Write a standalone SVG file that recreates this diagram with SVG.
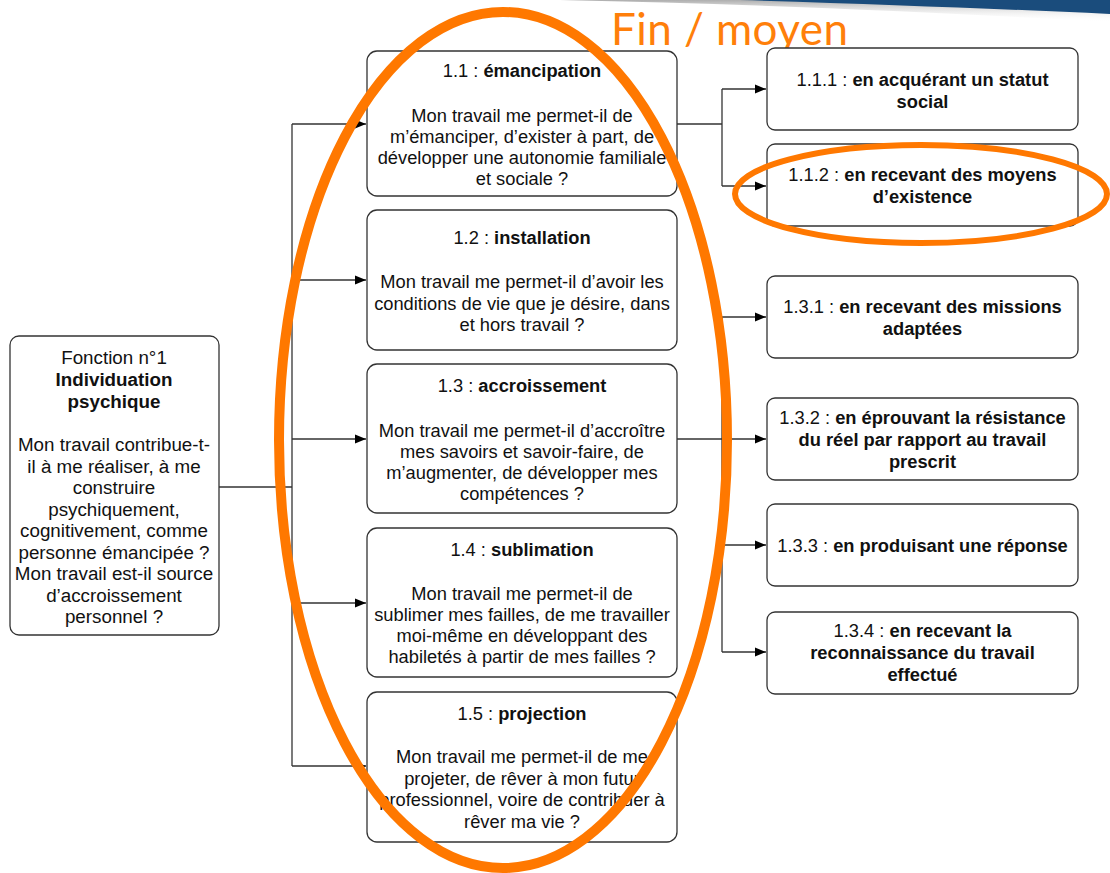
<svg xmlns="http://www.w3.org/2000/svg" width="1110" height="873" viewBox="0 0 1110 873">
<defs>
<style>
.box{fill:#fff;stroke:#333;stroke-width:1.3}
.t{font-family:"Liberation Sans",Arial,sans-serif;font-size:18.3px;fill:#111;text-anchor:middle}
.tl{font-size:18.8px}
.b{font-weight:bold}
.c{fill:none;stroke:#333;stroke-width:1.3}
.ca{fill:none;stroke:#333;stroke-width:1.3;marker-end:url(#ah)}
.hl{fill:none;stroke:#ff7800;stroke-width:10}
</style>
<marker id="ah" viewBox="0 0 10 10" refX="10" refY="5" markerWidth="11" markerHeight="11" markerUnits="userSpaceOnUse" orient="auto">
<path d="M0,1 L10,5 L0,9 Z" fill="#000"/>
</marker>
<linearGradient id="sh" x1="0" y1="0" x2="0" y2="1">
<stop offset="0" stop-color="#777"/>
<stop offset="1" stop-color="#fff" stop-opacity="0"/>
</linearGradient>
</defs>
<rect width="1110" height="873" fill="#fff"/>
<path d="M560 0 L1110 0 L1110 22 C950 13 760 4 560 0 Z" fill="url(#sh)" opacity="0.6"/>
<path d="M740 0 L1110 0 L1110 14 C1000 9 880 4 740 0 Z" fill="#1a4c7c"/>
<text x="611" y="45" font-family="Lato,'Open Sans',sans-serif" font-size="44" fill="#ff7f0a" textLength="237">Fin / moyen</text>

<g id="connectors">
<path class="c" d="M219 487 H292"/>
<path class="c" d="M292 124 V766"/>
<path class="ca" d="M292 124 H366"/>
<path class="ca" d="M292 280 H366"/>
<path class="ca" d="M292 439 H366"/>
<path class="ca" d="M292 603 H366"/>
<path class="ca" d="M292 766 H366"/>
<path class="c" d="M677 124 H722"/>
<path class="c" d="M722 89 V186"/>
<path class="ca" d="M722 89 H766"/>
<path class="ca" d="M722 186 H766"/>
<path class="ca" d="M677 439 H766"/>
<path class="c" d="M722 317 V652"/>
<path class="ca" d="M722 317 H766"/>
<path class="ca" d="M722 545 H766"/>
<path class="ca" d="M722 652 H766"/>
</g>

<g id="n1">
<rect class="box" x="10" y="336" width="209" height="299" rx="9"/>
<text class="t tl"><tspan x="114" y="364">Fonction n°1</tspan><tspan class="b" x="114" y="386">Individuation</tspan><tspan class="b" x="114" y="408">psychique</tspan><tspan x="114" y="451">Mon travail contribue-t-</tspan><tspan x="114" y="472.5">il à me réaliser, à me</tspan><tspan x="114" y="494">construire</tspan><tspan x="114" y="515.5">psychiquement,</tspan><tspan x="114" y="537">cognitivement, comme</tspan><tspan x="114" y="558.5">personne émancipée ?</tspan><tspan x="114" y="580">Mon travail est-il source</tspan><tspan x="114" y="601.5">d’accroissement</tspan><tspan x="114" y="623">personnel ?</tspan></text>
</g>

<g id="n11">
<rect class="box" x="367" y="51" width="310" height="145" rx="10"/>
<text class="t"><tspan x="522" y="77">1.1 : <tspan class="b">émancipation</tspan></tspan><tspan x="522" y="121.5">Mon travail me permet-il de</tspan><tspan x="522" y="142.5">m’émanciper, d’exister à part, de</tspan><tspan x="522" y="164">développer une autonomie familiale</tspan><tspan x="522" y="185">et sociale  ?</tspan></text>
</g>
<g id="n12">
<rect class="box" x="367" y="210" width="310" height="140" rx="10"/>
<text class="t"><tspan x="522" y="244">1.2 : <tspan class="b">installation</tspan></tspan><tspan x="522" y="288">Mon travail me permet-il d’avoir les</tspan><tspan x="522" y="309.5">conditions de vie que je désire, dans</tspan><tspan x="522" y="331">et hors travail ?</tspan></text>
</g>
<g id="n13">
<rect class="box" x="367" y="364" width="310" height="149" rx="10"/>
<text class="t"><tspan x="522" y="392">1.3 : <tspan class="b">accroissement</tspan></tspan><tspan x="522" y="436.5">Mon travail me permet-il d’accroître</tspan><tspan x="522" y="458">mes savoirs et savoir-faire, de</tspan><tspan x="522" y="479">m’augmenter, de développer mes</tspan><tspan x="522" y="500">compétences ?</tspan></text>
</g>
<g id="n14">
<rect class="box" x="367" y="528" width="310" height="149" rx="10"/>
<text class="t"><tspan x="522" y="556">1.4 : <tspan class="b">sublimation</tspan></tspan><tspan x="522" y="600">Mon travail me permet-il de</tspan><tspan x="522" y="621">sublimer mes failles, de me travailler</tspan><tspan x="522" y="642">moi-même en développant des</tspan><tspan x="522" y="663">habiletés à partir de mes failles ?</tspan></text>
</g>
<g id="n15">
<rect class="box" x="367" y="692" width="310" height="150" rx="10"/>
<text class="t"><tspan x="522" y="720">1.5 : <tspan class="b">projection</tspan></tspan><tspan x="522" y="763">Mon travail me permet-il de me</tspan><tspan x="522" y="784.5">projeter, de rêver à mon futur</tspan><tspan x="522" y="806">professionnel, voire de contribuer à</tspan><tspan x="522" y="827.5">rêver ma vie ?</tspan></text>
</g>

<g id="n111">
<rect class="box" x="767" y="48" width="311" height="82" rx="8"/>
<text class="t"><tspan x="922.5" y="86">1.1.1 : <tspan class="b">en acquérant un statut</tspan></tspan><tspan class="b" x="922.5" y="107.5">social</tspan></text>
</g>
<g id="n112">
<rect class="box" x="767" y="144" width="311" height="82" rx="8"/>
<text class="t"><tspan x="922.5" y="181">1.1.2 : <tspan class="b">en recevant des moyens</tspan></tspan><tspan class="b" x="922.5" y="203">d’existence</tspan></text>
</g>
<g id="n131">
<rect class="box" x="767" y="276" width="311" height="82" rx="8"/>
<text class="t"><tspan x="922.5" y="313">1.3.1 : <tspan class="b">en recevant des missions</tspan></tspan><tspan class="b" x="922.5" y="335">adaptées</tspan></text>
</g>
<g id="n132">
<rect class="box" x="767" y="398" width="311" height="82" rx="8"/>
<text class="t"><tspan x="922.5" y="424">1.3.2 : <tspan class="b">en éprouvant la résistance</tspan></tspan><tspan class="b" x="922.5" y="446">du réel par rapport au travail</tspan><tspan class="b" x="922.5" y="468">prescrit</tspan></text>
</g>
<g id="n133">
<rect class="box" x="767" y="504" width="311" height="82" rx="8"/>
<text class="t"><tspan x="922.5" y="552">1.3.3 : <tspan class="b">en produisant une réponse</tspan></tspan></text>
</g>
<g id="n134">
<rect class="box" x="767" y="612" width="311" height="82" rx="8"/>
<text class="t"><tspan x="922.5" y="637">1.3.4 : <tspan class="b">en recevant la</tspan></tspan><tspan class="b" x="922.5" y="659">reconnaissance du travail</tspan><tspan class="b" x="922.5" y="681">effectué</tspan></text>
</g>

<ellipse class="hl" cx="503" cy="440" rx="224" ry="428"/>
<ellipse class="hl" cx="921" cy="194" rx="186" ry="49" style="stroke-width:6"/>
</svg>
